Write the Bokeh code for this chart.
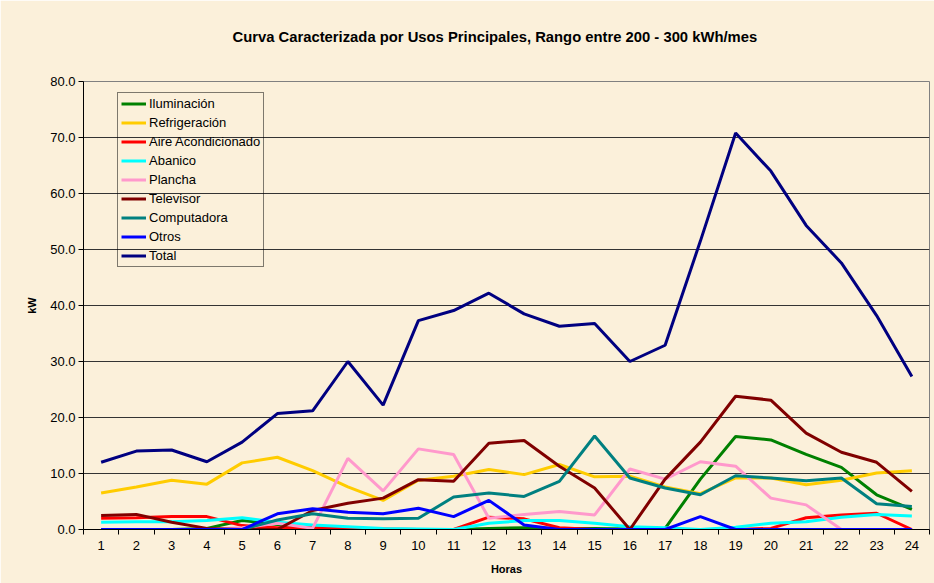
from bokeh.plotting import figure
from bokeh.models import (Range1d, FixedTicker, NumeralTickFormatter, Legend, LegendItem, Title)
from bokeh.embed import file_html
from bokeh.resources import INLINE

hours = list(range(1, 25))
x_labels = [str(h) for h in hours]
y_ticks = [0, 10, 20, 30, 40, 50, 60, 70, 80]

iluminacion = [0, 0, 0, 0.2, 1.6, 0.9, 0.1, 0, 0, 0, 0, 0.2, 0.3, 0.2, 0.2, 0.1, 0.2, 9.0, 16.6, 16.0, 13.4, 11.1, 6.2, 3.6]
refrigeracion = [6.5, 7.6, 8.8, 8.1, 11.9, 12.9, 10.5, 7.6, 5.2, 8.8, 9.5, 10.7, 9.8, 11.6, 9.4, 9.5, 7.6, 6.4, 9.2, 9.2, 8.0, 8.8, 10.1, 10.5]
aire = [2.0, 2.1, 2.3, 2.3, 0.7, 0.3, 0.3, 0.2, 0.1, 0, 0, 2.2, 1.9, 0.3, 0, 0, 0, 0, 0, 0.2, 2.1, 2.6, 2.9, 0]
abanico = [1.3, 1.4, 1.4, 1.6, 2.1, 1.3, 0.8, 0.5, 0.2, 0.1, 0, 1.1, 1.6, 1.6, 1.1, 0.5, 0.3, 0, 0.4, 1.1, 1.4, 2.2, 2.7, 2.4]
plancha = [0, 0, 0, 0, 0.3, 1.1, 0.2, 12.7, 6.9, 14.4, 13.4, 2.0, 2.7, 3.2, 2.6, 10.8, 9.0, 12.1, 11.3, 5.6, 4.4, 0, 0, 0]
televisor = [2.5, 2.7, 1.3, 0.2, 0, 0, 3.4, 4.7, 5.6, 8.9, 8.6, 15.4, 15.9, 11.3, 7.4, 0, 9.0, 15.6, 23.8, 23.1, 17.2, 13.8, 12.0, 6.8]
computadora = [0, 0, 0, 0, 0, 1.7, 2.8, 2.0, 1.9, 2.0, 5.8, 6.5, 5.9, 8.6, 16.7, 9.2, 7.4, 6.2, 9.6, 9.2, 8.7, 9.2, 4.6, 4.1]
otros = [0, 0, 0, 0, 0, 2.8, 3.7, 3.1, 2.8, 3.8, 2.3, 5.2, 0.8, 0, 0, 0, 0, 2.3, 0, 0, 0, 0, 0, 0]
total = [12.0, 14.0, 14.2, 12.1, 15.6, 20.7, 21.2, 30.0, 22.2, 37.3, 39.1, 42.2, 38.5, 36.3, 36.8, 30.0, 32.9, 51.5, 70.8, 64.0, 54.3, 47.6, 38.2, 27.3]

series_names = ["Iluminación", "Refrigeración", "Aire Acondicionado", "Abanico", "Plancha",
                "Televisor", "Computadora", "Otros", "Total"]
series_values = [iluminacion, refrigeracion, aire, abanico, plancha, televisor, computadora, otros, total]
series_colors = ["#008000", "#FFCC00", "#FF0000", "#00FFFF", "#FF99CC",
                 "#800000", "#008080", "#0000FF", "#000080"]

title_text = "Curva Caracterizada por Usos Principales, Rango entre 200 - 300 kWh/mes"

BG = "#FBF0DA"
FONT = "Liberation Sans"

p = figure(width=934, height=583, output_backend="svg", toolbar_location=None,
           x_range=Range1d(0.5, 24.5), y_range=Range1d(0, 80),
           min_border_left=83, min_border_right=5, min_border_top=81, min_border_bottom=54)
p.background_fill_color = BG
p.border_fill_color = BG
p.outline_line_color = "#808080"
p.outline_line_width = 1

# grid
p.xgrid.grid_line_color = None
p.ygrid.grid_line_color = "#333333"
p.ygrid.grid_line_width = 1
p.ygrid.ticker = FixedTicker(ticks=y_ticks)

# x axis
xa = p.xaxis[0]
xa.ticker = FixedTicker(ticks=hours, minor_ticks=[h - 0.5 for h in hours] + [24.5])
xa.major_label_overrides = {h: lab for h, lab in zip(hours, x_labels)}
xa.major_tick_out = 0
xa.major_tick_in = 0
xa.minor_tick_out = 5
xa.minor_tick_in = 0
xa.minor_tick_line_color = "black"
xa.axis_line_color = "black"
xa.major_label_standoff = 6
xa.major_label_text_font = FONT
xa.major_label_text_font_size = "13px"
xa.major_label_text_color = "black"
xa.axis_label = "Horas"
xa.axis_label_text_font = FONT
xa.axis_label_text_font_size = "11px"
xa.axis_label_text_font_style = "bold"
xa.axis_label_text_color = "black"
xa.axis_label_standoff = 10

# y axis
ya = p.yaxis[0]
ya.ticker = FixedTicker(ticks=y_ticks)
ya.formatter = NumeralTickFormatter(format="0.0")
ya.major_tick_out = 5
ya.major_tick_in = 0
ya.minor_tick_line_color = None
ya.axis_line_color = "black"
ya.major_tick_line_color = "black"
ya.major_label_standoff = 3
ya.major_label_text_font = FONT
ya.major_label_text_font_size = "13px"
ya.major_label_text_color = "black"
ya.axis_label = "kW"
ya.axis_label_text_font = FONT
ya.axis_label_text_font_size = "11px"
ya.axis_label_text_font_style = "bold"
ya.axis_label_text_color = "black"
ya.axis_label_standoff = 9

items = []
for name, vals, col in zip(series_names, series_values, series_colors):
    r = p.line(hours, vals, line_color=col, line_width=3)
    items.append(LegendItem(label=name, renderers=[r]))

legend = Legend(items=items, location=(34, 262), orientation="vertical",
                background_fill_alpha=0, border_line_color="black", border_line_width=1,
                label_text_font=FONT, label_text_font_size="13px", label_text_color="black",
                glyph_width=25, glyph_height=15, label_height=15, label_standoff=3,
                spacing=4, padding=3, margin=0)
p.add_layout(legend, "center")

# spacer between frame and title, then the title itself
p.add_layout(Title(text=" ", text_font_size="18px"), "above")
p.add_layout(Title(text=title_text, align="left", offset=149,
                   text_font=FONT, text_font_size="14.8px", text_font_style="bold",
                   text_color="black"), "above")

open("out.html", "w").write(file_html(p, INLINE))
